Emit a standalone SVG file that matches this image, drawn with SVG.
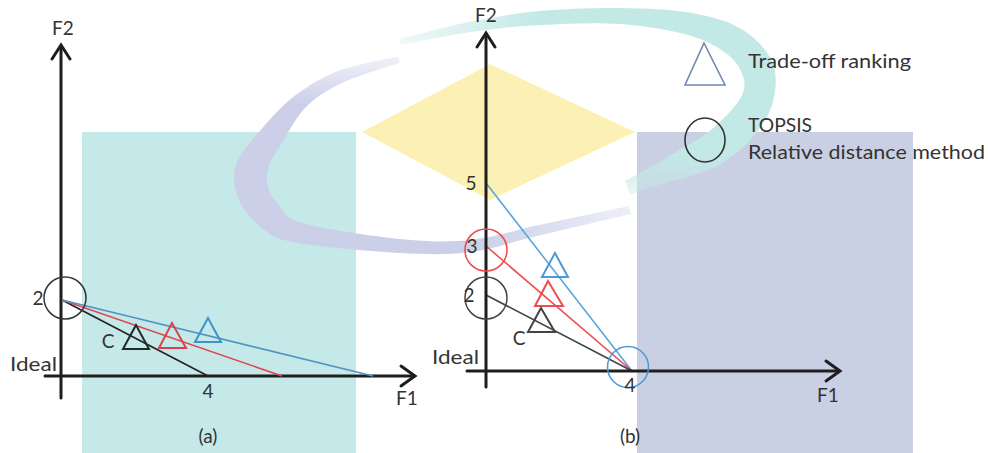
<svg xmlns="http://www.w3.org/2000/svg" width="988" height="453" viewBox="0 0 988 453">
<style>
text{font-family:Lato,"Open Sans","Liberation Sans",sans-serif;fill:#333333;font-size:19px}
.ax{fill:none;stroke:#1e1e1e;stroke-width:3;stroke-linecap:round;stroke-linejoin:miter}
.tri{fill:none;stroke-width:2}
.ln{stroke-width:1.6}
.mid{text-anchor:middle}
</style>
<defs>
<linearGradient id="fadeTop" gradientUnits="userSpaceOnUse" x1="0" y1="58" x2="0" y2="105">
<stop offset="0" stop-color="#fff" stop-opacity="0.3"/>
<stop offset="1" stop-color="#fff"/>
</linearGradient>
<linearGradient id="fadeRight" gradientUnits="userSpaceOnUse" x1="470" y1="0" x2="640" y2="0">
<stop offset="0" stop-color="#fff"/>
<stop offset="1" stop-color="#fff" stop-opacity="0.3"/>
</linearGradient>
<linearGradient id="fadeLeft" gradientUnits="userSpaceOnUse" x1="395" y1="0" x2="540" y2="0">
<stop offset="0" stop-color="#fff" stop-opacity="0.25"/>
<stop offset="1" stop-color="#fff"/>
</linearGradient>
<linearGradient id="fadeTail" gradientUnits="userSpaceOnUse" x1="0" y1="150" x2="0" y2="195">
<stop offset="0" stop-color="#fff"/>
<stop offset="1" stop-color="#fff" stop-opacity="0.35"/>
</linearGradient>
<mask id="lavMask" maskUnits="userSpaceOnUse" x="0" y="0" width="988" height="453">
<rect x="200" y="0" width="270" height="300" fill="url(#fadeTop)"/>
<rect x="470" y="0" width="230" height="300" fill="url(#fadeRight)"/>
</mask>
<mask id="tealMask" maskUnits="userSpaceOnUse" x="0" y="0" width="988" height="453">
<rect x="380" y="0" width="420" height="140" fill="url(#fadeLeft)"/>
<rect x="380" y="140" width="420" height="80" fill="url(#fadeTail)"/>
</mask>
</defs>
<rect width="988" height="453" fill="#ffffff"/>
<g id="watermark">
<rect x="82" y="132" width="274" height="321" fill="#c5e9e8"/>
<polygon points="490,64 635,132 490,200 362,132" fill="#fcf1b4"/>
<path fill="#cbcfe8" mask="url(#lavMask)" d="M398,57 C390,58 352.5,65.2 338,71 C323.5,76.8 309.2,85 297,94 C284.8,103 275.2,113.2 265,125 C254.8,136.8 240.3,152.5 236,165 C231.7,177.5 234.5,189.3 239,200 C243.5,210.7 253.2,221.8 263,229 C272.8,236.2 275.2,239 298,243 C320.8,247 371.3,251.5 400,253 C428.7,254.5 446.5,255 470,252 C493.5,249 514.2,241.3 541,235 C567.8,228.7 616,217.5 631,214 L629,206 C614,209.2 565.5,219.3 539,225 C512.5,230.7 493.2,237.7 470,240 C446.8,242.3 428,241.8 400,239 C372,236.2 322.2,228.7 302,223 C281.8,217.3 284.5,210.5 279,205 C273.5,199.5 270.8,196 269,190 C267.2,184 265.7,177.2 268,169 C270.3,160.8 276.5,151.5 283,141 C289.5,130.5 297.2,115.7 307,106 C316.8,96.3 328.8,89.2 342,83 C355.2,76.8 385,67 400,63 Z"/>
<rect x="637" y="132" width="276" height="321" fill="#c9d0e4"/>
<path fill="#c3e9e6" mask="url(#tealMask)" d="M399,39 C410.7,36.2 445.5,26.7 469,22 C492.5,17.3 514.8,13.3 540,11 C565.2,8.7 594.7,7.7 620,8 C645.3,8.3 671.5,9.3 692,13 C712.5,16.7 729.5,21.5 743,30 C756.5,38.5 768.2,51.5 773,64 C777.8,76.5 775.7,92.5 772,105 C768.3,117.5 759.5,129.2 751,139 C742.5,148.8 731,157.8 721,164 C711,170.2 701.3,172.5 691,176 C680.7,179.5 668.3,182.2 659,185 C649.7,187.8 639,191.7 630,195 L625,181 C632.7,177 642.7,171.8 651,167 C659.3,162.2 670.3,155.2 679,150 C687.7,144.8 695.3,141.5 703,136 C710.7,130.5 718.5,123.8 725,117 C731.5,110.2 739,101.8 742,95 C745,88.2 745.5,82.8 743,76 C740.5,69.2 736.2,60.8 727,54 C717.8,47.2 705.8,40 688,35 C670.2,30 644.7,25.7 620,24 C595.3,22.3 564.8,23.7 540,25 C515.2,26.3 494.2,28.7 471,32 C447.8,35.3 412.7,42.8 401,45 Z"/>
</g>
<g id="panel-a-axes">
<line class="ax" x1="61" y1="398" x2="61" y2="46"/>
<polyline class="ax" points="52,59 61,45 70,59"/>
<line class="ax" x1="45" y1="376" x2="414" y2="376"/>
<polyline class="ax" points="401,366 415,376 401,386"/>
</g>
<g id="connectors">
<line class="ln" x1="62" y1="300" x2="208" y2="376" stroke="#222"/>
<line class="ln" x1="62" y1="300" x2="282" y2="376" stroke="#e0454c"/>
<line class="ln" x1="62" y1="300" x2="373" y2="376" stroke="#4f94c4"/>
<line class="ln" x1="486" y1="183" x2="632" y2="371" stroke="#5aa6dc"/>
<line class="ln" x1="486" y1="246" x2="632" y2="371" stroke="#f04b50"/>
<line class="ln" x1="486" y1="295" x2="632" y2="371" stroke="#444"/>
</g>
<g id="panel-a-points">
<circle cx="65" cy="298" r="21" fill="none" stroke="#333" stroke-width="1.5"/>
<polygon class="tri" points="136,325 123,349 149,349" stroke="#1e2a28"/>
<polygon class="tri" points="172,323 159,348 186,348" stroke="#d9434b"/>
<polygon class="tri" points="208,318 195,342 221,342" stroke="#3d93cc"/>
</g>
<g id="panel-a-labels">
<text class="mid" x="63" y="35" font-size="20">F2</text>
<text class="mid" x="407" y="405" font-size="20">F1</text>
<text class="mid" x="38" y="305" font-size="20">2</text>
<text x="10" y="371" textLength="47" lengthAdjust="spacingAndGlyphs">Ideal</text>
<text class="mid" x="108" y="348">C</text>
<text class="mid" x="208" y="398" font-size="20">4</text>
<text class="mid" x="208" y="443" font-size="21">(a)</text>
</g>
<g id="panel-b-axes">
<line class="ax" x1="486" y1="387" x2="486" y2="34"/>
<polyline class="ax" points="477,47 486,33 495,47"/>
<line class="ax" x1="467" y1="371" x2="839" y2="371"/>
<polyline class="ax" points="826,361 840,371 826,381"/>
</g>
<g id="panel-b-points">
<circle cx="486" cy="250" r="21" fill="none" stroke="#ee4848" stroke-width="1.5"/>
<circle cx="486" cy="298" r="21" fill="none" stroke="#444" stroke-width="1.5"/>
<circle cx="628" cy="367" r="20.5" fill="none" stroke="#4a9ad8" stroke-width="1.5"/>
<polygon class="tri" points="555,253 542,277 568,277" stroke="#4a9ad8"/>
<polygon class="tri" points="548,281 535,306 563,306" stroke="#f04b50"/>
<polygon class="tri" points="541,308 528,332 555,332" stroke="#444"/>
</g>
<g id="panel-b-labels">
<text class="mid" x="486" y="22" font-size="20">F2</text>
<text class="mid" x="828" y="402" font-size="20">F1</text>
<text class="mid" x="471" y="190">5</text>
<text class="mid" x="472" y="253">3</text>
<text class="mid" x="469" y="302">2</text>
<text x="432" y="364" textLength="47" lengthAdjust="spacingAndGlyphs">Ideal</text>
<text class="mid" x="519" y="345">C</text>
<text class="mid" x="630" y="392">4</text>
<text class="mid" x="630" y="443" font-size="21">(b)</text>
</g>
<g id="legend-tradeoff">
<polygon points="704,43 685,85 725,85" fill="none" stroke="#7088b0" stroke-width="1.6"/>
<text x="748" y="68" textLength="163" lengthAdjust="spacingAndGlyphs">Trade-off ranking</text>
</g>
<g id="legend-topsis">
<ellipse cx="705" cy="140" rx="20" ry="22" fill="none" stroke="#333" stroke-width="1.6"/>
<text x="748" y="132" textLength="64" lengthAdjust="spacingAndGlyphs">TOPSIS</text>
<text x="748" y="159" textLength="237" lengthAdjust="spacingAndGlyphs">Relative distance method</text>
</g>
</svg>
